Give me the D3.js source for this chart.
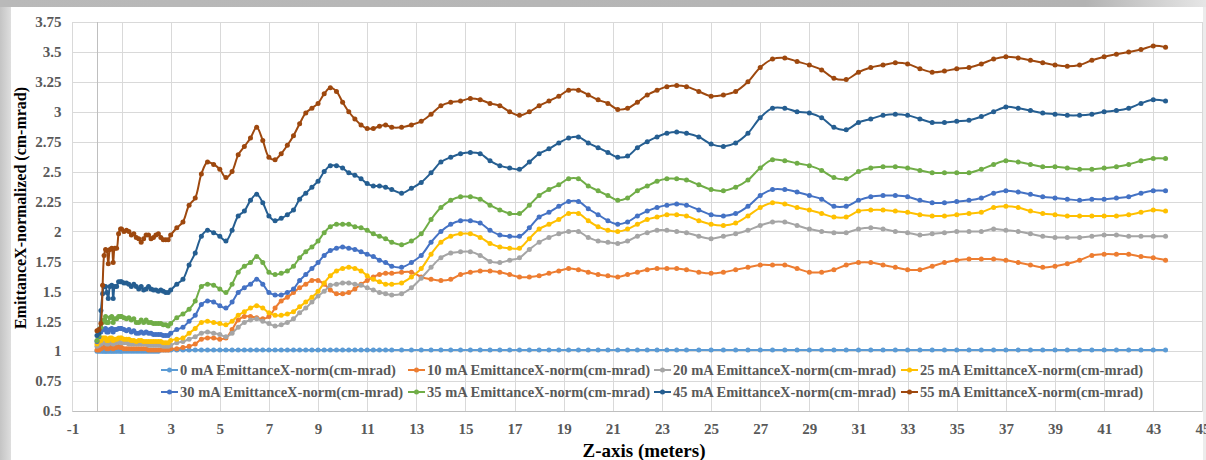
<!DOCTYPE html>
<html>
<head>
<meta charset="utf-8">
<script src="https://cdn.jsdelivr.net/npm/d3@7"></script>
<style>
  html, body { margin: 0; padding: 0; background: #ffffff; }
  svg { display: block; }
</style>
</head>
<body>
<svg id="chart" width="1206" height="460"></svg>
<script>
// Sample positions along the beamline (meters)
const zPos = [
  0, 0.08, 0.16, 0.23, 0.29, 0.35, 0.4, 0.46, 0.53, 0.6, 0.66, 0.73, 0.8, 0.88, 0.96,
  1.0, 1.1, 1.2, 1.3, 1.4, 1.5, 1.6, 1.7, 1.8, 1.9, 2.0, 2.1, 2.2, 2.3, 2.4, 2.5, 2.6, 2.7, 2.8, 2.9,
  3.0, 3.25, 3.5, 3.75, 4.0, 4.25, 4.5, 4.75, 5.0, 5.25, 5.5, 5.75, 6.0, 6.25, 6.5, 6.75, 7.0, 7.25, 7.5, 7.75,
  8.0, 8.25, 8.5, 8.75, 9.0, 9.25, 9.5, 9.75, 10.0, 10.25, 10.5, 10.75, 11.0, 11.25, 11.5, 11.75,
  12.0, 12.4, 12.8, 13.2, 13.6, 14.0, 14.4, 14.8, 15.2, 15.6, 16.0, 16.4, 16.8, 17.2, 17.6, 18.0, 18.4, 18.8,
  19.2, 19.6, 20.0, 20.4, 20.8, 21.2, 21.6, 22.0, 22.4, 22.8, 23.2, 23.6,
  24.0, 24.5, 25.0, 25.5, 26.0, 26.5, 27.0, 27.5, 28.0, 28.5, 29.0, 29.5, 30.0, 30.5, 31.0, 31.5, 32.0, 32.5,
  33.0, 33.5, 34.0, 34.5, 35.0, 35.5, 36.0, 36.5, 37.0, 37.5, 38.0, 38.5, 39.0, 39.5, 40.0, 40.5, 41.0, 41.5,
  42.0, 42.5, 43.0, 43.5
];

// Normalized X emittance (cm-mrad) for each beam current
const emit0 = [
  1.00, 1.00, 1.00, 1.00, 1.00, 1.00, 1.00, 1.00, 1.00, 1.00, 1.00, 1.00, 1.00, 1.00, 1.00,
  1.00, 1.00, 1.00, 1.00, 1.00, 1.00, 1.00, 1.00, 1.00, 1.00, 1.00, 1.00, 1.00, 1.00, 1.00, 1.00, 1.01, 1.01, 1.01, 1.01,
  1.01, 1.01, 1.01, 1.01, 1.01, 1.01, 1.01, 1.01, 1.01, 1.01, 1.01, 1.01, 1.01, 1.01, 1.01, 1.01, 1.01, 1.01, 1.01, 1.01,
  1.01, 1.01, 1.01, 1.01, 1.01, 1.01, 1.01, 1.01, 1.01, 1.01, 1.01, 1.01, 1.01, 1.01, 1.01, 1.01,
  1.01, 1.01, 1.01, 1.01, 1.01, 1.01, 1.01, 1.01, 1.01, 1.01, 1.01, 1.01, 1.01, 1.01, 1.01, 1.01, 1.01, 1.01,
  1.01, 1.01, 1.01, 1.01, 1.01, 1.01, 1.01, 1.01, 1.01, 1.01, 1.01, 1.01,
  1.01, 1.01, 1.01, 1.01, 1.01, 1.01, 1.01, 1.01, 1.01, 1.01, 1.01, 1.01, 1.01, 1.01, 1.01, 1.01, 1.01, 1.01,
  1.01, 1.01, 1.01, 1.01, 1.01, 1.01, 1.01, 1.01, 1.01, 1.01, 1.01, 1.01, 1.01, 1.01, 1.01, 1.01, 1.01, 1.01,
  1.01, 1.01, 1.01, 1.01
];
const emit10 = [
  1.01, 1.01, 1.02, 1.03, 1.04, 1.04, 1.02, 1.02, 1.03, 1.04, 1.02, 1.03, 1.03, 1.04, 1.03,
  1.03, 1.02, 1.02, 1.02, 1.02, 1.02, 1.02, 1.02, 1.02, 1.02, 1.02, 1.01, 1.01, 1.01, 1.01, 1.01, 1.01, 1.01, 1.01, 1.01,
  1.02, 1.02, 1.03, 1.04, 1.06, 1.10, 1.11, 1.11, 1.10, 1.11, 1.18, 1.26, 1.29, 1.29, 1.28, 1.27, 1.29, 1.36, 1.42, 1.45,
  1.49, 1.53, 1.56, 1.59, 1.59, 1.56, 1.51, 1.48, 1.48, 1.49, 1.52, 1.56, 1.59, 1.62, 1.64, 1.65,
  1.65, 1.66, 1.66, 1.62, 1.60, 1.59, 1.60, 1.64, 1.66, 1.67, 1.67, 1.66, 1.64, 1.62, 1.62, 1.63, 1.65, 1.67,
  1.69, 1.68, 1.66, 1.64, 1.63, 1.62, 1.64, 1.66, 1.68, 1.69, 1.69, 1.69,
  1.68, 1.66, 1.65, 1.66, 1.68, 1.70, 1.72, 1.72, 1.72, 1.69, 1.66, 1.66, 1.68, 1.72, 1.74, 1.74, 1.72, 1.70,
  1.68, 1.68, 1.71, 1.74, 1.76, 1.77, 1.77, 1.77, 1.76, 1.74, 1.72, 1.70, 1.71, 1.73, 1.76, 1.80, 1.81, 1.81,
  1.81, 1.79, 1.78, 1.76
];
const emit20 = [
  1.04, 1.05, 1.06, 1.07, 1.07, 1.07, 1.06, 1.06, 1.07, 1.08, 1.06, 1.07, 1.07, 1.08, 1.07,
  1.07, 1.07, 1.07, 1.06, 1.06, 1.06, 1.06, 1.06, 1.06, 1.06, 1.06, 1.05, 1.05, 1.05, 1.05, 1.05, 1.05, 1.04, 1.04, 1.04,
  1.05, 1.07, 1.08, 1.10, 1.12, 1.15, 1.16, 1.15, 1.14, 1.12, 1.15, 1.20, 1.24, 1.26, 1.27, 1.25, 1.23, 1.21, 1.22, 1.24,
  1.27, 1.32, 1.36, 1.41, 1.46, 1.50, 1.55, 1.56, 1.57, 1.57, 1.56, 1.55, 1.53, 1.51, 1.49, 1.48,
  1.47, 1.48, 1.53, 1.61, 1.70, 1.78, 1.82, 1.83, 1.83, 1.80, 1.75, 1.74, 1.76, 1.78, 1.85, 1.91, 1.95, 1.98,
  2.00, 2.00, 1.95, 1.92, 1.91, 1.90, 1.92, 1.96, 1.99, 2.01, 2.01, 2.00,
  1.99, 1.96, 1.94, 1.96, 1.98, 2.01, 2.05, 2.08, 2.08, 2.05, 2.02, 2.00, 1.99, 1.99, 2.02, 2.03, 2.02, 2.00,
  1.99, 1.97, 1.98, 1.99, 2.00, 2.00, 2.00, 2.02, 2.01, 2.00, 1.98, 1.96, 1.95, 1.95, 1.95, 1.96, 1.97, 1.97,
  1.96, 1.96, 1.96, 1.96
];
const emit25 = [
  1.06, 1.08, 1.09, 1.11, 1.11, 1.11, 1.09, 1.09, 1.11, 1.11, 1.09, 1.10, 1.10, 1.11, 1.11,
  1.11, 1.10, 1.10, 1.10, 1.09, 1.09, 1.08, 1.09, 1.09, 1.08, 1.08, 1.08, 1.08, 1.08, 1.08, 1.08, 1.08, 1.07, 1.07, 1.07,
  1.09, 1.10, 1.11, 1.15, 1.19, 1.24, 1.25, 1.24, 1.23, 1.22, 1.25, 1.30, 1.33, 1.36, 1.38, 1.36, 1.32, 1.30, 1.30, 1.31,
  1.33, 1.37, 1.41, 1.45, 1.50, 1.57, 1.63, 1.67, 1.69, 1.70, 1.69, 1.67, 1.63, 1.60, 1.58, 1.56,
  1.56, 1.57, 1.62, 1.69, 1.81, 1.91, 1.96, 1.98, 1.98, 1.95, 1.90, 1.87, 1.86, 1.86, 1.94, 2.02, 2.06, 2.10,
  2.15, 2.15, 2.09, 2.04, 2.01, 2.00, 2.02, 2.06, 2.10, 2.12, 2.14, 2.14,
  2.13, 2.09, 2.06, 2.05, 2.07, 2.13, 2.20, 2.24, 2.23, 2.20, 2.18, 2.15, 2.12, 2.12, 2.17, 2.18, 2.18, 2.17,
  2.16, 2.14, 2.13, 2.13, 2.14, 2.15, 2.16, 2.20, 2.21, 2.20, 2.17, 2.15, 2.14, 2.13, 2.13, 2.13, 2.13, 2.13,
  2.14, 2.16, 2.18, 2.17
];
const emit30 = [
  1.08, 1.12, 1.16, 1.18, 1.18, 1.19, 1.16, 1.16, 1.18, 1.19, 1.16, 1.18, 1.18, 1.19, 1.19,
  1.19, 1.18, 1.17, 1.18, 1.16, 1.17, 1.15, 1.15, 1.16, 1.15, 1.16, 1.15, 1.15, 1.14, 1.14, 1.14, 1.14, 1.13, 1.13, 1.13,
  1.15, 1.18, 1.20, 1.25, 1.30, 1.39, 1.42, 1.41, 1.38, 1.36, 1.41, 1.49, 1.53, 1.56, 1.60, 1.56, 1.49, 1.47, 1.47, 1.49,
  1.52, 1.59, 1.64, 1.69, 1.74, 1.80, 1.84, 1.86, 1.87, 1.86, 1.85, 1.83, 1.81, 1.79, 1.76, 1.74,
  1.71, 1.70, 1.74, 1.80, 1.91, 2.00, 2.06, 2.09, 2.09, 2.07, 2.01, 1.97, 1.96, 1.96, 2.03, 2.12, 2.16, 2.21,
  2.25, 2.25, 2.19, 2.14, 2.09, 2.06, 2.08, 2.13, 2.17, 2.20, 2.22, 2.23,
  2.22, 2.18, 2.14, 2.13, 2.15, 2.21, 2.30, 2.35, 2.35, 2.33, 2.30, 2.27, 2.21, 2.21, 2.26, 2.29, 2.30, 2.30,
  2.29, 2.26, 2.24, 2.24, 2.25, 2.26, 2.28, 2.32, 2.34, 2.33, 2.31, 2.29, 2.28, 2.27, 2.26, 2.27, 2.27, 2.28,
  2.29, 2.32, 2.34, 2.34
];
const emit35 = [
  1.09, 1.13, 1.20, 1.24, 1.26, 1.29, 1.24, 1.24, 1.28, 1.29, 1.24, 1.27, 1.27, 1.29, 1.29,
  1.29, 1.28, 1.27, 1.28, 1.26, 1.27, 1.24, 1.24, 1.26, 1.24, 1.26, 1.24, 1.24, 1.23, 1.23, 1.23, 1.23, 1.22, 1.22, 1.21,
  1.23, 1.28, 1.31, 1.35, 1.42, 1.54, 1.56, 1.55, 1.52, 1.49, 1.56, 1.66, 1.71, 1.74, 1.79, 1.74, 1.66, 1.64, 1.65, 1.67,
  1.71, 1.78, 1.83, 1.87, 1.92, 1.99, 2.04, 2.06, 2.06, 2.06, 2.04, 2.03, 2.01, 1.98, 1.96, 1.94,
  1.91, 1.89, 1.92, 1.98, 2.10, 2.20, 2.26, 2.29, 2.29, 2.27, 2.22, 2.18, 2.15, 2.15, 2.22, 2.30, 2.35, 2.39,
  2.44, 2.44, 2.38, 2.34, 2.30, 2.26, 2.28, 2.34, 2.38, 2.42, 2.44, 2.44,
  2.43, 2.39, 2.35, 2.34, 2.37, 2.43, 2.53, 2.60, 2.59, 2.57, 2.55, 2.51, 2.45, 2.44, 2.50, 2.53, 2.54, 2.54,
  2.53, 2.51, 2.49, 2.49, 2.49, 2.49, 2.52, 2.56, 2.59, 2.58, 2.56, 2.54, 2.54, 2.53, 2.52, 2.52, 2.53, 2.54,
  2.56, 2.59, 2.61, 2.61
];
const emit45 = [
  1.13, 1.15, 1.34, 1.48, 1.54, 1.54, 1.49, 1.44, 1.54, 1.55, 1.44, 1.54, 1.54, 1.58, 1.58,
  1.58, 1.57, 1.57, 1.56, 1.54, 1.56, 1.54, 1.52, 1.54, 1.51, 1.52, 1.54, 1.52, 1.51, 1.51, 1.50, 1.51, 1.50, 1.49, 1.49,
  1.51, 1.56, 1.60, 1.72, 1.82, 1.96, 2.01, 1.99, 1.96, 1.92, 2.01, 2.13, 2.17, 2.26, 2.31, 2.24, 2.13, 2.09, 2.11, 2.14,
  2.18, 2.27, 2.32, 2.37, 2.42, 2.50, 2.55, 2.55, 2.53, 2.49, 2.47, 2.44, 2.40, 2.38, 2.38, 2.37,
  2.35, 2.32, 2.36, 2.41, 2.49, 2.58, 2.62, 2.65, 2.66, 2.65, 2.59, 2.55, 2.53, 2.52, 2.58, 2.65, 2.69, 2.74,
  2.78, 2.79, 2.74, 2.70, 2.66, 2.62, 2.63, 2.70, 2.75, 2.79, 2.82, 2.83,
  2.82, 2.79, 2.73, 2.71, 2.74, 2.82, 2.95, 3.03, 3.03, 3.00, 2.99, 2.95, 2.87, 2.85, 2.91, 2.94, 2.97, 2.98,
  2.97, 2.94, 2.91, 2.91, 2.92, 2.93, 2.96, 3.00, 3.04, 3.03, 3.01, 2.99, 2.98, 2.97, 2.97, 2.98, 3.00, 3.01,
  3.03, 3.07, 3.10, 3.09
];
const emit55 = [
  1.17, 1.18, 1.23, 1.55, 1.80, 1.85, 1.84, 1.73, 1.85, 1.86, 1.74, 1.86, 1.86, 1.98, 2.02,
  2.02, 2.00, 2.01, 2.00, 1.97, 1.98, 1.95, 1.94, 1.91, 1.94, 1.97, 1.97, 1.94, 1.95, 1.97, 1.98, 1.95, 1.93, 1.93, 1.93,
  1.97, 2.03, 2.08, 2.22, 2.28, 2.48, 2.58, 2.56, 2.52, 2.45, 2.50, 2.64, 2.71, 2.78, 2.87, 2.76, 2.62, 2.60, 2.65, 2.72,
  2.80, 2.90, 2.99, 3.03, 3.07, 3.15, 3.20, 3.17, 3.08, 3.00, 2.94, 2.89, 2.86, 2.86, 2.88, 2.89,
  2.87, 2.87, 2.89, 2.92, 2.98, 3.05, 3.08, 3.09, 3.11, 3.10, 3.07, 3.05, 3.00, 2.97, 3.00, 3.05, 3.09, 3.13,
  3.18, 3.18, 3.14, 3.10, 3.07, 3.02, 3.03, 3.08, 3.14, 3.18, 3.21, 3.22,
  3.21, 3.17, 3.13, 3.14, 3.17, 3.25, 3.37, 3.44, 3.45, 3.42, 3.39, 3.35, 3.28, 3.27, 3.33, 3.37, 3.39, 3.41,
  3.40, 3.36, 3.33, 3.34, 3.36, 3.37, 3.40, 3.44, 3.46, 3.45, 3.43, 3.41, 3.39, 3.38, 3.39, 3.43, 3.46, 3.48,
  3.50, 3.52, 3.55, 3.54
];

const seriesNames = [
  "0 mA EmittanceX-norm(cm-mrad)", "10 mA EmittanceX-norm(cm-mrad)",
  "20 mA EmittanceX-norm(cm-mrad)", "25 mA EmittanceX-norm(cm-mrad)",
  "30 mA EmittanceX-norm(cm-mrad)", "35 mA EmittanceX-norm(cm-mrad)",
  "45 mA EmittanceX-norm(cm-mrad)", "55 mA EmittanceX-norm(cm-mrad)"
];
const seriesColors = ["#5B9BD5", "#ED7D31", "#A5A5A5", "#FFC000", "#4472C4", "#70AD47", "#255E91", "#9E480E"];
const seriesValues = [emit0, emit10, emit20, emit25, emit30, emit35, emit45, emit55];

const xTickValues = d3.range(-1, 46, 2);
const yTickValues = d3.range(0, 14).map(i => 0.5 + i * 0.25);
const xTitle = "Z-axis (meters)";
const yTitle = "EmittanceX-normalized (cm-mrad)";

const svg = d3.select("#chart");
const W = 1206, H = 460;
const plot = { left: 72.4, right: 1202.4, top: 22, bottom: 411 };
const fontFamily = "'Liberation Serif', 'Times New Roman', serif";

// Window frame around the chart object
const defs = svg.append("defs");
const gTop = defs.append("linearGradient").attr("id", "frameTop").attr("x1", 0).attr("x2", 1).attr("y1", 0).attr("y2", 0);
gTop.append("stop").attr("offset", "0%").attr("stop-color", "#b9b9b9");
gTop.append("stop").attr("offset", "90%").attr("stop-color", "#b3b3b3");
gTop.append("stop").attr("offset", "100%").attr("stop-color", "#e6e6e6");
const gLeft = defs.append("linearGradient").attr("id", "frameLeft").attr("x1", 0).attr("x2", 1).attr("y1", 0).attr("y2", 0);
gLeft.append("stop").attr("offset", "0%").attr("stop-color", "#c4c4c4");
gLeft.append("stop").attr("offset", "100%").attr("stop-color", "#dedede");

svg.append("rect").attr("width", W).attr("height", H).attr("fill", "#ffffff");
svg.append("rect").attr("x", 0).attr("y", 0).attr("width", 11).attr("height", H).attr("fill", "url(#frameLeft)");
svg.append("rect").attr("x", 0).attr("y", 0).attr("width", W).attr("height", 7).attr("fill", "url(#frameTop)");
svg.append("rect").attr("x", 1203).attr("y", 7).attr("width", 3).attr("height", H - 7).attr("fill", "#ececec");

const x = d3.scaleLinear().domain([-1, 45]).range([plot.left, plot.right]);
const y = d3.scaleLinear().domain([0.5, 3.75]).range([plot.bottom, plot.top]);

// Gridlines
const grid = svg.append("g").attr("stroke", "#d9d9d9").attr("stroke-width", 1);
grid.selectAll("line.h").data(yTickValues).join("line")
  .attr("x1", plot.left).attr("x2", plot.right)
  .attr("y1", d => Math.round(y(d)) + 0.5).attr("y2", d => Math.round(y(d)) + 0.5);
grid.selectAll("line.v").data(xTickValues).join("line")
  .attr("y1", plot.top).attr("y2", plot.bottom)
  .attr("x1", d => Math.round(x(d)) + 0.5).attr("x2", d => Math.round(x(d)) + 0.5);

// Vertical axis crosses the horizontal axis at z = 0
svg.append("line")
  .attr("x1", Math.round(x(0)) + 0.5).attr("x2", Math.round(x(0)) + 0.5)
  .attr("y1", plot.top).attr("y2", plot.bottom)
  .attr("stroke", "#bfbfbf").attr("stroke-width", 1);
svg.append("line")
  .attr("x1", plot.left).attr("x2", plot.right)
  .attr("y1", Math.round(y(0.5)) + 0.5).attr("y2", Math.round(y(0.5)) + 0.5)
  .attr("stroke", "#bfbfbf").attr("stroke-width", 1);

// Tick labels via d3 axes
const fmt = d => String(+d.toFixed(2));
const xAxis = svg.append("g")
  .attr("transform", `translate(0,${plot.bottom})`)
  .call(d3.axisBottom(x).tickValues(xTickValues).tickFormat(fmt).tickSize(0).tickPadding(12));
const yAxis = svg.append("g")
  .attr("transform", `translate(${plot.left},0)`)
  .call(d3.axisLeft(y).tickValues(yTickValues).tickFormat(fmt).tickSize(0).tickPadding(11));
[xAxis, yAxis].forEach(a => {
  a.select(".domain").remove();
  a.selectAll("text")
    .attr("font-family", fontFamily).attr("font-weight", "bold")
    .attr("font-size", "15px").attr("fill", "#595959");
});

// Axis titles
svg.append("text")
  .attr("x", 644).attr("y", 457)
  .attr("text-anchor", "middle")
  .attr("font-family", fontFamily).attr("font-weight", "bold").attr("font-size", "19px")
  .attr("fill", "#000000").text(xTitle);
svg.append("text")
  .attr("transform", `translate(26,${208}) rotate(-90)`)
  .attr("text-anchor", "middle")
  .attr("font-family", fontFamily).attr("font-weight", "bold").attr("font-size", "16px")
  .attr("fill", "#000000").text(yTitle);

// Series
const seriesData = seriesValues.map((vals, i) => ({
  name: seriesNames[i], color: seriesColors[i],
  points: vals.map((v, j) => ({ z: zPos[j], v }))
}));
const line = d3.line().x(d => x(d.z)).y(d => y(d.v)).curve(d3.curveCatmullRom.alpha(0.5));

const sg = svg.append("g").selectAll("g").data(seriesData).join("g");
sg.append("path")
  .attr("d", d => line(d.points))
  .attr("fill", "none").attr("stroke", d => d.color).attr("stroke-width", 2)
  .attr("stroke-linejoin", "round");
sg.each(function (d) {
  d3.select(this).selectAll("circle").data(d.points).join("circle")
    .attr("cx", p => x(p.z)).attr("cy", p => y(p.v)).attr("r", 2.5)
    .attr("fill", d.color);
});

// Legend (two rows, four columns)
const legendCols = [180, 427, 673, 920];
const legendRows = [370, 392];
const lg = svg.append("g").selectAll("g").data(seriesData).join("g")
  .attr("transform", (d, i) => `translate(${legendCols[i % 4]},${legendRows[Math.floor(i / 4)]})`);
lg.append("line").attr("x1", -19).attr("x2", -2).attr("y1", 0).attr("y2", 0)
  .attr("stroke", d => d.color).attr("stroke-width", 2);
lg.append("circle").attr("cx", -10.5).attr("cy", 0).attr("r", 2.5).attr("fill", d => d.color);
lg.append("text").attr("x", 0).attr("y", 5)
  .attr("font-family", fontFamily).attr("font-weight", "bold").attr("font-size", "14.5px")
  .attr("fill", "#595959").text(d => d.name);
</script>
</body>
</html>
